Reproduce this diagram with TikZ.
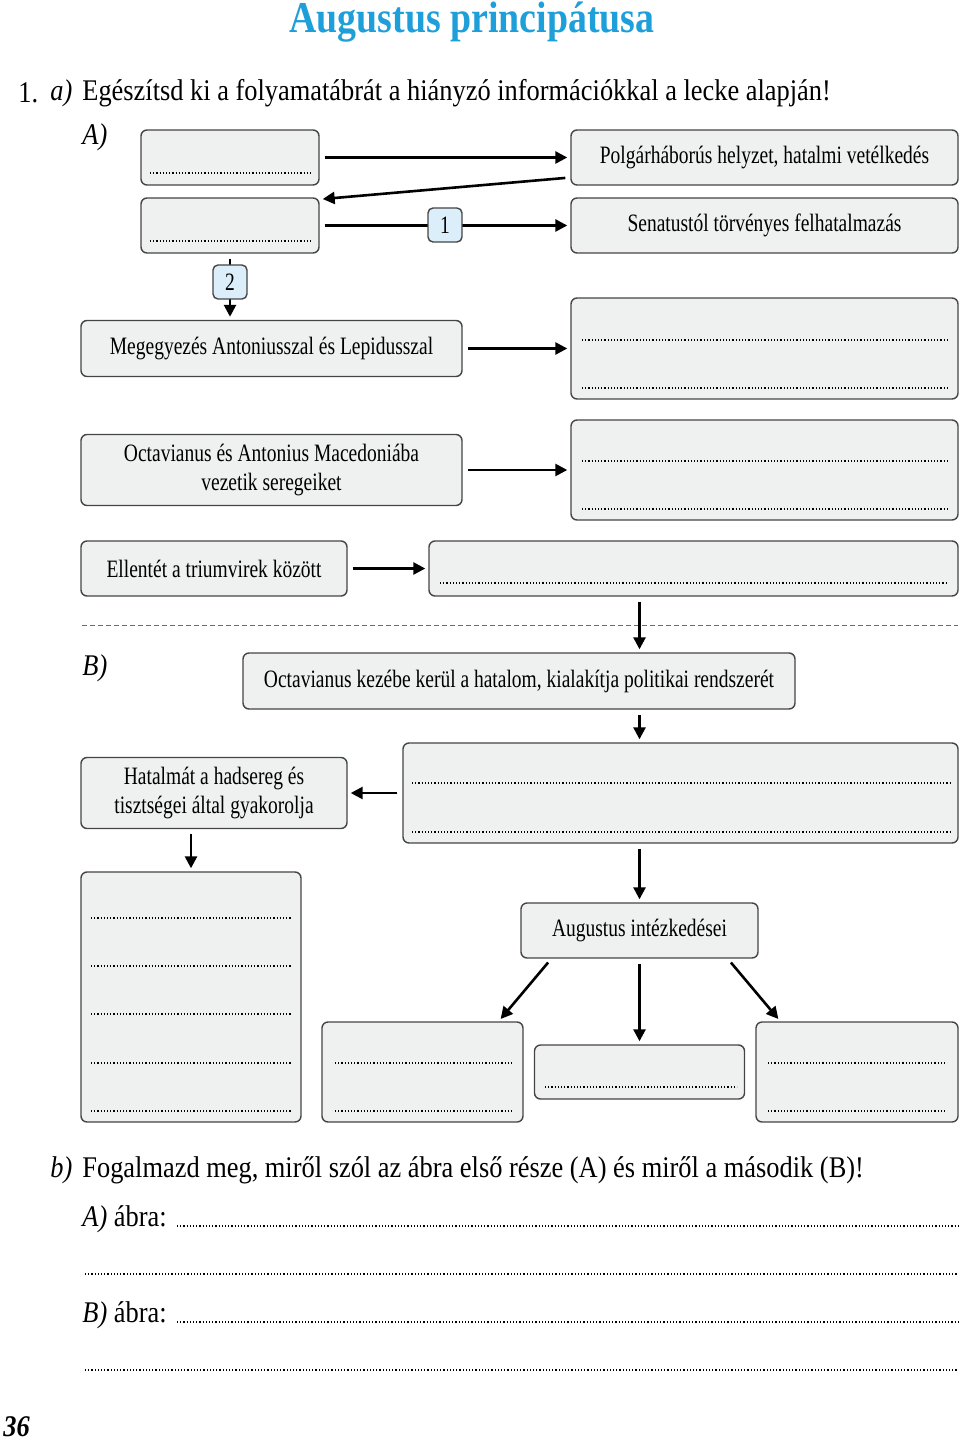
\documentclass[tikz,border=0pt]{standalone}
\usepackage{fontspec}
\setmainfont{Liberation Serif}
\newfontfamily\condfont[FakeStretch=0.78]{Liberation Serif}
\newfontfamily\titlefont[FakeStretch=0.86]{Liberation Serif}
\newfontfamily\qfont[FakeStretch=0.88]{Liberation Serif}
\usetikzlibrary{arrows.meta}
\definecolor{boxgray}{HTML}{EFF0F0}
\definecolor{bordergray}{HTML}{454545}
\definecolor{numblue}{HTML}{DCEEF9}
\definecolor{titleblue}{HTML}{1E9FD9}

\begin{document}
\begin{tikzpicture}[x=0.5pt,y=-0.5pt]
		\useasboundingbox (0,0) rectangle (960,1443);
		\tikzstyle{box}=[draw=bordergray,fill=boxgray,rounded corners=3pt,line width=0.7pt,inner sep=0pt,align=center,font=\condfont\fontsize{12.5}{14.5}\selectfont]
		\tikzstyle{num}=[draw=bordergray,fill=numblue,rounded corners=2.5pt,line width=0.7pt,minimum width=17pt,minimum height=17pt,inner sep=0pt,font=\condfont\fontsize{12.5}{14.5}\selectfont]
		\tikzstyle{arr}=[-{Triangle[length=6pt,width=6pt]},line width=1.3pt,shorten <=2.5pt,shorten >=1.5pt]
		\tikzstyle{dots}=[line width=0.7pt,dash pattern=on 0.6pt off 1pt]
		\tikzstyle{txt}=[anchor=west,inner sep=0pt,font=\qfont\fontsize{15}{17}\selectfont]
		\node[anchor=base,inner sep=0pt,font=\titlefont\bfseries\fontsize{22}{24}\selectfont,text=titleblue] (title) at (472,33) {Augustus principátusa};
		\node[txt] (q_1) at (18,93) {1.};
		\node[txt] (q_a) at (50,93) {\itshape a)};
		\node[txt] (q_text) at (82,93) {Egészítsd ki a folyamatábrát a hiányzó információkkal a lecke alapján!};
		\node[txt] (l_a) at (82,137) {\itshape A)};
		% A) resz
		\node[box,minimum width=89pt,minimum height=27.5pt] (a_1) at (230,157.5) {};
		\node[box,minimum width=193.5pt,minimum height=27.5pt] (p) at (764.5,157.5) {Polgárháborús helyzet, hatalmi vetélkedés};
		\node[box,minimum width=89pt,minimum height=27.5pt] (a_2) at (230,225.5) {};
		\node[box,minimum width=193.5pt,minimum height=27.5pt] (s) at (764.5,225.5) {Senatustól törvényes felhatalmazás};
		\node[box,minimum width=190.5pt,minimum height=28pt] (m) at (271.5,348.5) {Megegyezés Antoniusszal és Lepidusszal};
		\node[box,minimum width=193.5pt,minimum height=50.5pt] (d_1) at (764.5,348.5) {};
		\node[box,minimum width=190.5pt,minimum height=35.5pt] (o) at (271.5,470) {Octavianus és Antonius Macedoniába\\vezetik seregeiket};
		\node[box,minimum width=193.5pt,minimum height=50pt] (d_2) at (764.5,470) {};
		\node[box,minimum width=133pt,minimum height=27.5pt] (e) at (214,568.5) {Ellentét a triumvirek között};
		\node[box,minimum width=264.5pt,minimum height=27.5pt] (d_3) at (693.5,568.5) {};
		\draw[dots] (150,173) -- (312,173);
		\draw[dots] (150,241) -- (312,241);
		\foreach \y in {340,388,461,509}
			\draw[dots] (582,\y) -- (948,\y);
		\draw[dots] (440,583) -- (948,583);
		\draw[arr] (a_1) -- (p);
		\draw[arr] ([yshift=-10pt]p.west) -- ([yshift=-1pt]a_2.north east);
		\draw[arr] (a_2) -- (s);
		\draw[arr] (a_2) -- (a_2 |- m.north);
		\draw[arr] (m) -- (d_1);
		\draw[arr] (o) -- (d_2);
		\draw[arr] (e) -- (d_3);
		\node[num] (n_1) at (445,225) {1};
		\node[num] (n_2) at (230,282) {2};
		% B) resz
		\draw[bordergray!80,line width=0.5pt,dash pattern=on 2.5pt off 1.5pt] (82,625) -- (958,625);
		\node[txt] (l_b) at (82,668) {\itshape B)};
		\node[box,minimum width=276pt,minimum height=28pt] (k) at (519,681) {Octavianus kezébe kerül a hatalom, kialakítja politikai rendszerét};
		\node[box,minimum width=277.5pt,minimum height=50pt] (d_4) at (680.5,793) {};
		\node[box,minimum width=133pt,minimum height=35.5pt] (h) at (214,793) {Hatalmát a hadsereg és\\tisztségei által gyakorolja};
		\node[box,minimum width=110pt,minimum height=125pt] (l) at (191,997) {};
		\node[box,minimum width=118.5pt,minimum height=27.5pt] (ai) at (639.5,930.5) {Augustus intézkedései};
		\node[box,minimum width=100.5pt,minimum height=50pt] (b_1) at (422.5,1072) {};
		\node[box,minimum width=105pt,minimum height=27pt] (b_2) at (639.5,1072) {};
		\node[box,minimum width=101pt,minimum height=50pt] (b_3) at (857,1072) {};
		\draw[dots] (412,783) -- (950,783);
		\draw[dots] (412,832) -- (950,832);
		\foreach \y in {918,966,1014,1063,1111}
			\draw[dots] (91,\y) -- (292,\y);
		\foreach \y in {1063,1111}{
			\draw[dots] (335,\y) -- (512,\y);
			\draw[dots] (768,\y) -- (947,\y);
		}
		\draw[dots] (545,1087) -- (737,1087);
		\draw[arr] (d_3.south -| ai) -- (k.north -| ai);
		\draw[arr] (k.south -| ai) -- (d_4.north -| ai);
		\draw[arr] (d_4) -- (h);
		\draw[arr] (h.south -| l) -- (l);
		\draw[arr] (d_4.south -| ai) -- (ai);
		\draw[arr] ([xshift=15.5pt]ai.south west) -- ([xshift=-12.5pt]b_1.north east);
		\draw[arr] (ai) -- (b_2);
		\draw[arr] ([xshift=-15.5pt]ai.south east) -- ([xshift=12.5pt]b_3.north west);
		% b) feladat
		\node[txt] (q_b) at (50,1170) {\itshape b)};
		\node[txt] (q_btext) at (82,1170) {Fogalmazd meg, miről szól az ábra első része (A) és miről a második (B)!};
		\node[txt] (r_a) at (82,1219) {\itshape A)\upshape{} ábra:};
		\node[txt] (r_b) at (82,1315) {\itshape B)\upshape{} ábra:};
		\draw[dots] (177,1226) -- (958,1226);
		\draw[dots] (85,1274) -- (958,1274);
		\draw[dots] (177,1322) -- (958,1322);
		\draw[dots] (85,1370) -- (958,1370);
		\node[txt,font=\qfont\bfseries\itshape\fontsize{15}{17}\selectfont] (page) at (3,1427) {36};
	\end{tikzpicture}
\end{document}
